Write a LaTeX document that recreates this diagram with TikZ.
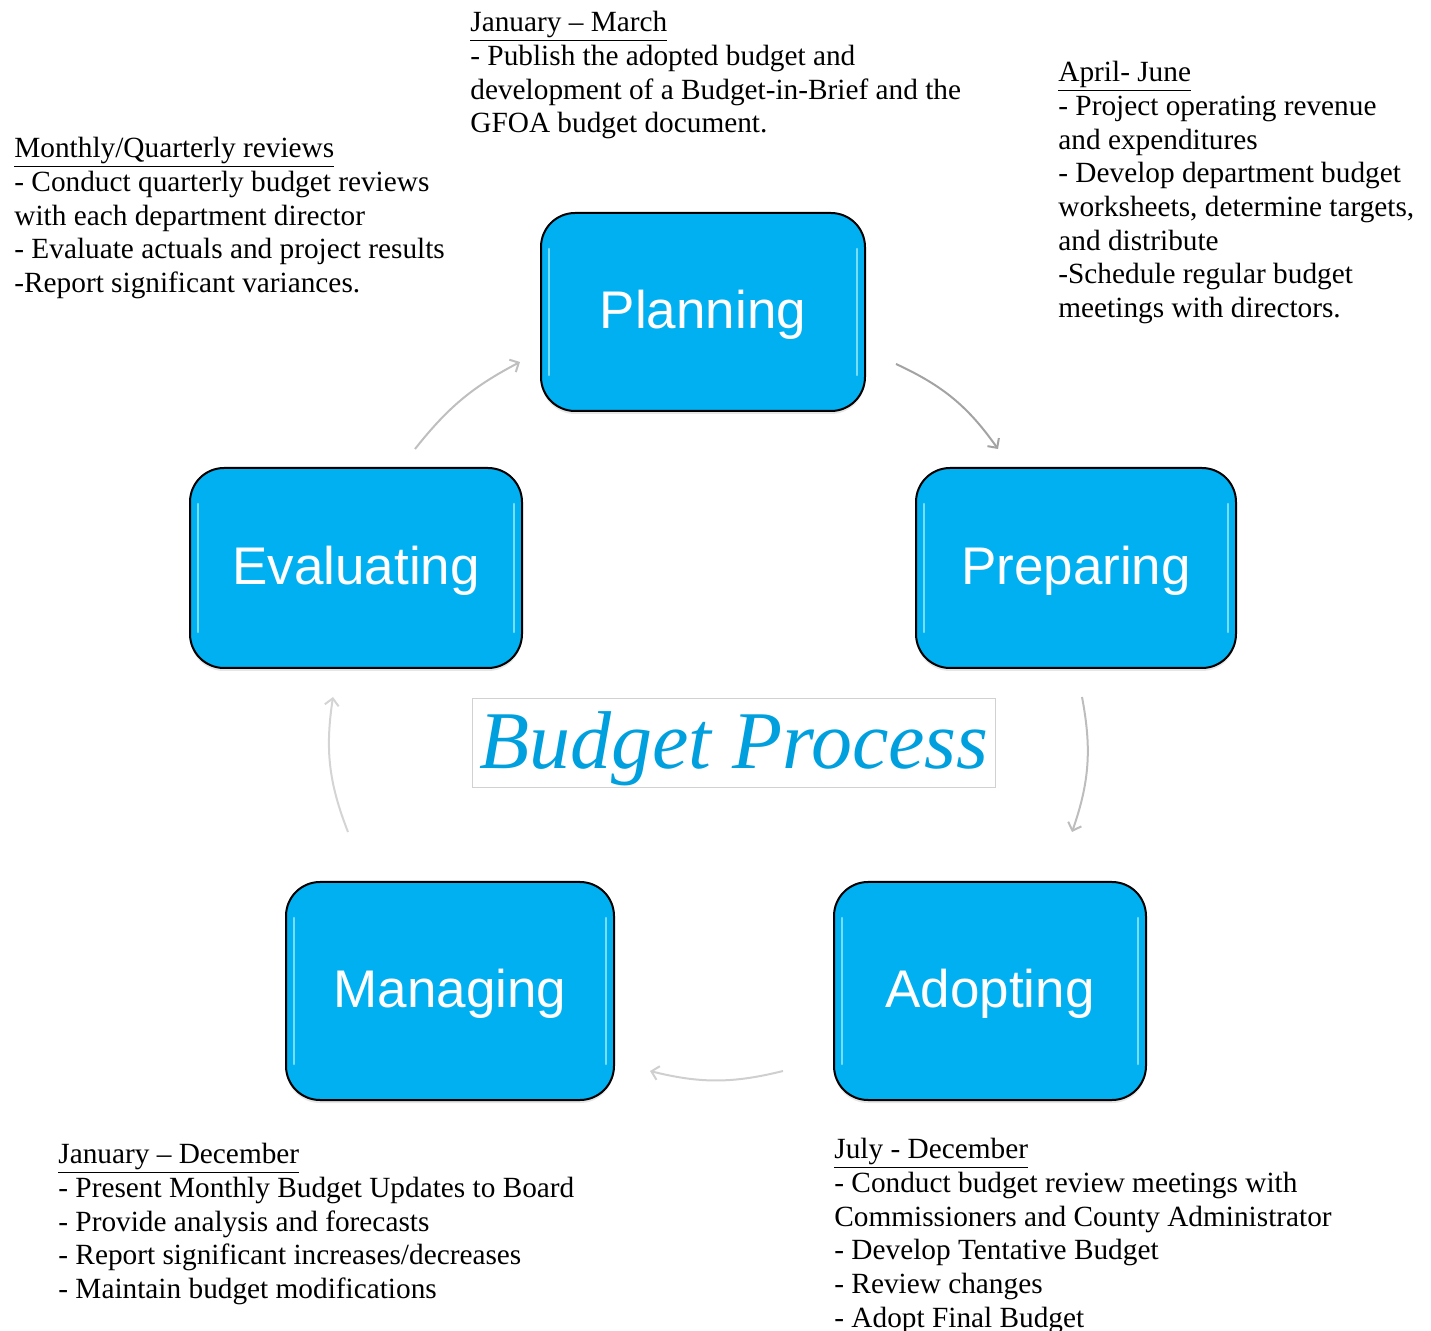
\documentclass[tikz,border=0pt]{standalone}
\usepackage{fontspec}
\setmainfont{Liberation Serif}
\newfontfamily\boxfont{Liberation Sans}
\usetikzlibrary{arrows.meta,shadows}
\definecolor{stepblue}{RGB}{0,176,240}
\definecolor{glint}{RGB}{120,222,255}
\definecolor{titleblue}{RGB}{0,160,222}

\begin{document}
\begin{tikzpicture}[
        x=0.5pt,y=-0.5pt,
        phase/.style={draw=black,line width=1pt,fill=stepblue,rounded corners=17pt,
            text=white,font={\boxfont\fontsize{26.5}{30}\selectfont},text depth=3pt,
            drop shadow={opacity=0.2,shadow xshift=0pt,shadow yshift=-1.5pt},
            path picture={
                \draw[glint,line width=1.3pt,line cap=round]
                    ([shift={(4pt,-18pt)}]path picture bounding box.north west)--
                    ([shift={(4pt,18pt)}]path picture bounding box.south west);
                \draw[glint,line width=1.3pt,line cap=round]
                    ([shift={(-4pt,-18pt)}]path picture bounding box.north east)--
                    ([shift={(-4pt,18pt)}]path picture bounding box.south east);
            }},
        notes/.style={anchor=north west,inner sep=0pt,align=left,
            font={\fontsize{14.65}{16.85}\selectfont}},
        cycle/.style={-{Straight Barb[length=3.5pt,width=7pt]},line width=1pt}
        ]

        \useasboundingbox (0,0) rectangle (1431,1331);

        % Phases
        \node[phase,minimum width=162pt,minimum height=99pt] (plan) at (703,312) {Planning};
        \node[phase,minimum width=160pt,minimum height=100pt] (prep) at (1076,568) {Preparing};
        \node[phase,minimum width=156pt,minimum height=109pt] (adopt) at (990,991) {Adopting};
        \node[phase,minimum width=164pt,minimum height=109pt] (manage) at (450,991) {Managing};
        \node[phase,minimum width=166pt,minimum height=100pt] (eval) at (356,568) {Evaluating};

        % Title
        \node[draw=black!18,line width=0.5pt,minimum width=261pt,minimum height=44.5pt,text depth=3.5pt,
            text=titleblue,font={\fontsize{41}{44}\selectfont\itshape}] (title) at (734,743.5) {Budget Process};

        % Cycle arrows
        \coordinate (plan-r) at (896,364);
        \coordinate (prep-t) at (998,449);
        \coordinate (prep-b) at (1082,697);
        \coordinate (adopt-t) at (1072,832);
        \coordinate (adopt-l) at (783,1071);
        \coordinate (manage-r) at (650,1071);
        \coordinate (manage-t) at (348,832);
        \coordinate (eval-b) at (333,697);
        \coordinate (eval-t) at (415,449);
        \coordinate (plan-l) at (520,362);

        \draw[cycle,black!36] (plan-r) to[bend left=15] (prep-t);
        \draw[cycle,black!26] (prep-b) to[bend left=15] (adopt-t);
        \draw[cycle,black!19] (adopt-l) to[bend left=14] (manage-r);
        \draw[cycle,black!17] (manage-t) to[bend left=15] (eval-b);
        \draw[cycle,black!25] (eval-t) to[bend left=12] (plan-l);

        % Notes
        \node[notes] (janmar) at (470,11) {\underline{January – March}\\- Publish the adopted budget and\\development of a Budget-in-Brief and the\\GFOA budget document.};
        \node[notes] (aprjun) at (1058,61) {\underline{April- June}\\- Project operating revenue\\and expenditures\\- Develop department budget\\worksheets, determine targets,\\and distribute\\-Schedule regular budget\\meetings with directors.};
        \node[notes] (monthly) at (14,137) {\underline{Monthly/Quarterly reviews}\\- Conduct quarterly budget reviews\\with each department director\\- Evaluate actuals and project results\\-Report significant variances.};
        \node[notes] (jandec) at (58,1143) {\underline{January – December}\\- Present Monthly Budget Updates to Board\\- Provide analysis and forecasts\\- Report significant increases/decreases\\- Maintain budget modifications};
        \node[notes] (juldec) at (834,1138) {\underline{July - December}\\- Conduct budget review meetings with\\Commissioners and County Administrator\\- Develop Tentative Budget\\- Review changes\\- Adopt Final Budget};
    \end{tikzpicture}
\end{document}
